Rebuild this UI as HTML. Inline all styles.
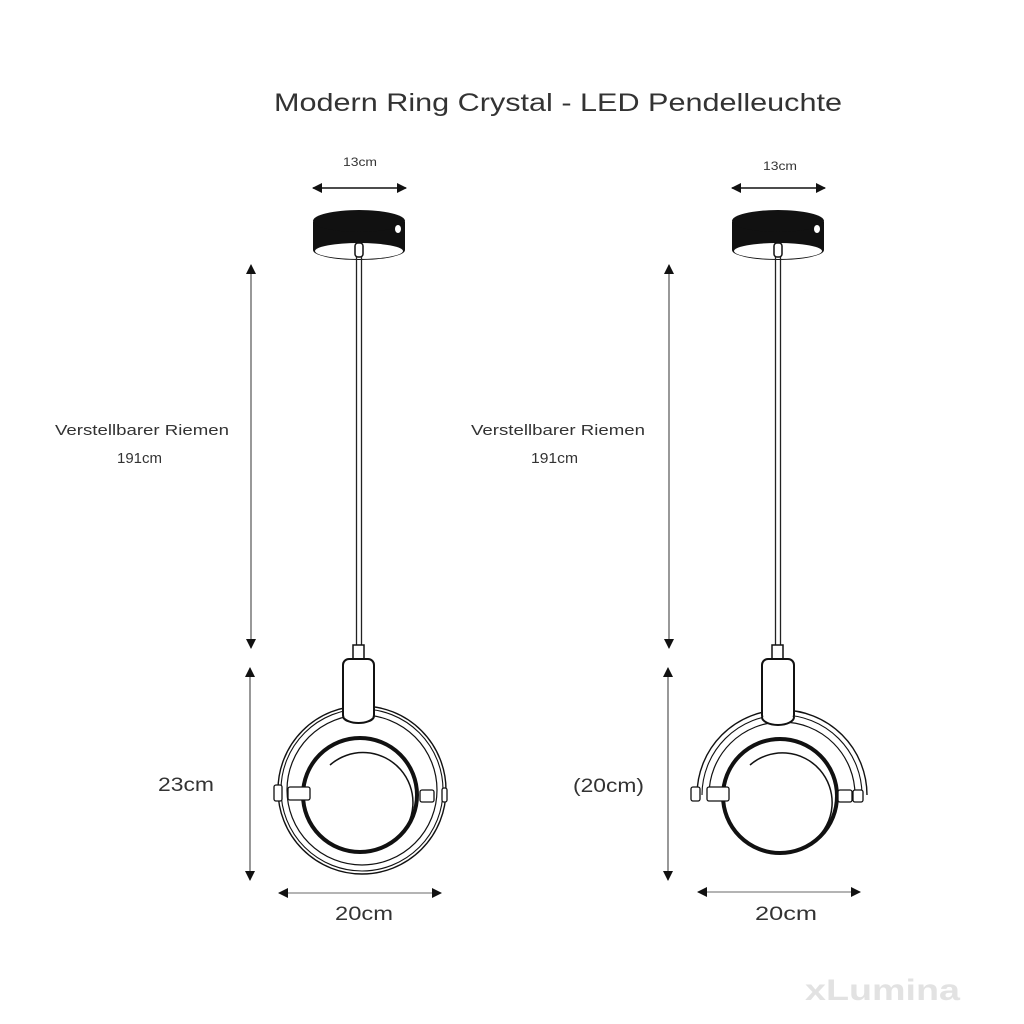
<!DOCTYPE html>
<html><head><meta charset="utf-8"><style>
html,body{margin:0;padding:0;background:#fff;width:1024px;height:1024px;overflow:hidden}
svg{display:block}
text{font-family:"Liberation Sans",sans-serif;fill:#333}
</style></head><body>
<svg width="1024" height="1024" viewBox="0 0 1024 1024" xmlns="http://www.w3.org/2000/svg">
<defs>
<marker id="ah" markerWidth="10" markerHeight="10" refX="9" refY="5" orient="auto-start-reverse" markerUnits="userSpaceOnUse">
<path d="M0,0 L10,5 L0,10 Z" fill="#111"/>
</marker>
</defs>
<text x="274" y="111" font-size="25" textLength="568" lengthAdjust="spacingAndGlyphs">Modern Ring Crystal - LED Pendelleuchte</text>

<!-- LEFT LAMP -->
<text x="343" y="166" font-size="12" textLength="34" lengthAdjust="spacingAndGlyphs">13cm</text>
<line x1="313" y1="188" x2="406" y2="188" stroke="#111" stroke-width="1.5" marker-start="url(#ah)" marker-end="url(#ah)"/>
<g>
<path d="M313,222 L313,250 A46,10 0 0 0 405,250 L405,222 Z" fill="#111"/>
<ellipse cx="359" cy="221" rx="46" ry="11" fill="#111"/>
<ellipse cx="359" cy="251" rx="44" ry="8" fill="#fff"/>
<ellipse cx="398" cy="229" rx="3" ry="4" fill="#fff"/>
<rect x="355" y="243" width="8" height="14" rx="3" fill="#fff" stroke="#111" stroke-width="1.5"/>
</g>
<line x1="356.5" y1="257" x2="356.5" y2="650" stroke="#222" stroke-width="1.3"/>
<line x1="361.5" y1="257" x2="361.5" y2="650" stroke="#222" stroke-width="1.3"/>
<rect x="353" y="645" width="11" height="16" fill="#fff" stroke="#111" stroke-width="1.5"/>
<circle cx="362" cy="790" r="84" fill="none" stroke="#111" stroke-width="1.4"/>
<circle cx="362" cy="790" r="81" fill="none" stroke="#111" stroke-width="1.1"/>
<circle cx="362" cy="790" r="75" fill="none" stroke="#111" stroke-width="1.2"/>
<circle cx="360" cy="795" r="57" fill="#fff" stroke="#111" stroke-width="4"/>
<path d="M330,765 A45,45 0 0 1 396,840" fill="none" stroke="#111" stroke-width="1.5"/>
<rect x="274" y="785" width="8" height="16" rx="2" fill="#fff" stroke="#111" stroke-width="1.3"/>
<rect x="288" y="787" width="22" height="13" rx="2" fill="#fff" stroke="#111" stroke-width="1.3"/>
<rect x="420" y="790" width="14" height="12" rx="2" fill="#fff" stroke="#111" stroke-width="1.3"/>
<rect x="442" y="788" width="5" height="14" rx="2" fill="#fff" stroke="#111" stroke-width="1.3"/>
<rect x="343" y="659" width="31" height="62" rx="6" fill="#fff" stroke="#111" stroke-width="2"/>
<path d="M343,717 A16,8 0 0 0 374,717" fill="#fff" stroke="#111" stroke-width="2"/>
<line x1="251" y1="265" x2="251" y2="648" stroke="#555" stroke-width="1.2" marker-start="url(#ah)" marker-end="url(#ah)"/>
<line x1="250" y1="668" x2="250" y2="880" stroke="#555" stroke-width="1.2" marker-start="url(#ah)" marker-end="url(#ah)"/>
<line x1="279" y1="893" x2="441" y2="893" stroke="#888" stroke-width="1.2" marker-start="url(#ah)" marker-end="url(#ah)"/>
<text x="55" y="435" font-size="15" textLength="174" lengthAdjust="spacingAndGlyphs">Verstellbarer Riemen</text>
<text x="117" y="463" font-size="15" textLength="45" lengthAdjust="spacingAndGlyphs">191cm</text>
<text x="158" y="791" font-size="19" textLength="56" lengthAdjust="spacingAndGlyphs">23cm</text>
<text x="335" y="920" font-size="19" textLength="58" lengthAdjust="spacingAndGlyphs">20cm</text>

<!-- RIGHT LAMP -->
<text x="763" y="170" font-size="12" textLength="34" lengthAdjust="spacingAndGlyphs">13cm</text>
<line x1="732" y1="188" x2="825" y2="188" stroke="#111" stroke-width="1.5" marker-start="url(#ah)" marker-end="url(#ah)"/>
<g>
<path d="M732,222 L732,250 A46,10 0 0 0 824,250 L824,222 Z" fill="#111"/>
<ellipse cx="778" cy="221" rx="46" ry="11" fill="#111"/>
<ellipse cx="778" cy="251" rx="44" ry="8" fill="#fff"/>
<ellipse cx="817" cy="229" rx="3" ry="4" fill="#fff"/>
<rect x="774" y="243" width="8" height="14" rx="3" fill="#fff" stroke="#111" stroke-width="1.5"/>
</g>
<line x1="775.5" y1="257" x2="775.5" y2="650" stroke="#222" stroke-width="1.3"/>
<line x1="780.5" y1="257" x2="780.5" y2="650" stroke="#222" stroke-width="1.3"/>
<rect x="772" y="645" width="11" height="16" fill="#fff" stroke="#111" stroke-width="1.5"/>
<path d="M697,795 A85,85 0 0 1 867,795" fill="none" stroke="#111" stroke-width="1.4"/>
<path d="M702,795 A80,80 0 0 1 862,795" fill="none" stroke="#111" stroke-width="1.1"/>
<path d="M709,795 A73,73 0 0 1 855,795" fill="none" stroke="#111" stroke-width="1.2"/>
<circle cx="780" cy="796" r="57" fill="#fff" stroke="#111" stroke-width="4"/>
<path d="M750,765 A45,45 0 0 1 815,840" fill="none" stroke="#111" stroke-width="1.5"/>
<rect x="691" y="787" width="9" height="14" rx="2" fill="#fff" stroke="#111" stroke-width="1.3"/>
<rect x="707" y="787" width="22" height="14" rx="2" fill="#fff" stroke="#111" stroke-width="1.3"/>
<rect x="838" y="790" width="14" height="12" rx="2" fill="#fff" stroke="#111" stroke-width="1.3"/>
<rect x="853" y="790" width="10" height="12" rx="2" fill="#fff" stroke="#111" stroke-width="1.3"/>
<rect x="762" y="659" width="32" height="62" rx="6" fill="#fff" stroke="#111" stroke-width="2"/>
<path d="M762,717 A16,8 0 0 0 794,717" fill="#fff" stroke="#111" stroke-width="2"/>
<line x1="669" y1="265" x2="669" y2="648" stroke="#555" stroke-width="1.2" marker-start="url(#ah)" marker-end="url(#ah)"/>
<line x1="668" y1="668" x2="668" y2="880" stroke="#555" stroke-width="1.2" marker-start="url(#ah)" marker-end="url(#ah)"/>
<line x1="698" y1="892" x2="860" y2="892" stroke="#888" stroke-width="1.2" marker-start="url(#ah)" marker-end="url(#ah)"/>
<text x="471" y="435" font-size="15" textLength="174" lengthAdjust="spacingAndGlyphs">Verstellbarer Riemen</text>
<text x="531" y="463" font-size="15" textLength="47" lengthAdjust="spacingAndGlyphs">191cm</text>
<text x="573" y="792" font-size="19" textLength="71" lengthAdjust="spacingAndGlyphs">(20cm)</text>
<text x="755" y="920" font-size="19" textLength="62" lengthAdjust="spacingAndGlyphs">20cm</text>

<text x="805" y="1000" font-size="30" font-weight="bold" style="fill:#e2e2e2" textLength="155" lengthAdjust="spacingAndGlyphs">xLumina</text>
</svg>
</body></html>
